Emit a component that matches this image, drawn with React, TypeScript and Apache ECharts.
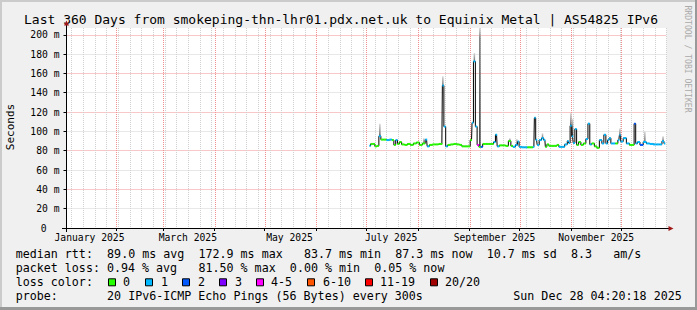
import React, { useEffect, useRef } from 'react';
import * as echarts from 'echarts';

// ---------- texts ----------
const TITLE = 'Last 360 Days from smokeping-thn-lhr01.pdx.net.uk to Equinix Metal | AS54825 IPv6';
const Y_TITLE = 'Seconds';
const WATERMARK = 'RRDTOOL / TOBI OETIKER';

// ---------- axes (days since 2025-01-01 00:00) ----------
const START_DAY = 1 + (4 + 20 / 60 + 18 / 3600) / 24; // Jan 2 04:20:18
const END_DAY = START_DAY + 360; // Dec 28 04:20:18
const Y_MAX = 207;

const monthStartDays = [31, 59, 90, 120, 151, 181, 212, 243, 273, 304, 334];
const monthLabelDays = [15, 74, 135, 196, 258, 319];
const monthLabels = ['January 2025', 'March 2025', 'May 2025', 'July 2025', 'September 2025', 'November 2025'];
const FIRST_SUNDAY = 4; // Jan 5 2025
const yMajorTicks = [0, 20, 40, 60, 80, 100, 120, 140, 160, 180, 200];

// ---------- data: median rtt (ms) ----------
const medianDays = [
  183.2, 184.1, 185.6, 186.8, 188.0, 189.2, 190.4, 192.2, 194.0, 195.8,
  197.0, 198.2, 199.2, 200.3, 201.5, 203.0, 204.8, 206.6, 208.4, 210.2,
  212.0, 213.8, 215.6, 217.2, 218.0, 219.8, 221.6, 223.4, 225.2, 226.4,
  227.0, 228.2, 229.2, 230.6, 232.4, 234.2, 236.0, 237.8, 239.0, 240.8,
  242.6, 244.2, 244.8, 245.9, 247.1, 248.0, 249.2, 250.2, 251.6, 253.4,
  255.2, 257.0, 257.9, 259.2, 260.0, 261.8, 263.6, 265.4, 267.2, 268.4,
  269.6, 271.4, 272.3, 273.2, 275.0, 276.8, 278.6, 280.4, 281.6, 282.2,
  283.2, 284.0, 285.6, 286.8, 288.2, 288.8, 290.0, 291.2, 293.0, 294.8,
  296.0, 297.2, 299.0, 301.2, 302.1, 302.9, 303.8, 304.8, 305.6, 306.8,
  307.7, 309.2, 310.4, 312.2, 313.4, 314.7, 315.6, 317.0, 318.8, 320.0,
  321.8, 323.0, 324.2, 325.4, 326.3, 327.2, 328.4, 329.6, 331.4, 332.6,
  333.2, 334.2, 336.2, 338.0, 339.8, 341.3, 342.2, 343.2, 344.3, 346.2,
  348.2, 350.0, 352.1, 354.2, 356.0, 357.8, 359.1, 360.2,
];
const medianRtt = [
  85, 87, 87, 84.5, 85, 95, 91.5, 91.5, 91, 91.5,
  91, 86, 91, 87, 89, 86.5, 86, 87, 86, 87.5,
  88.5, 86, 87.5, 91.5, 84.5, 86, 86.5, 86.5, 87, 87,
  147.5, 105, 84.5, 86, 86.5, 87, 86.5, 86, 84.5, 84.5,
  84.5, 91, 109, 172.4, 105, 86, 84, 84, 87, 87,
  87, 87, 89, 96.5, 84.5, 85.5, 85.5, 85, 90, 85,
  84, 86, 89.5, 84, 83.5, 83.5, 83.5, 83.5, 84, 114,
  91.3, 86, 91, 93, 91, 84, 86.5, 85, 85, 85,
  86, 84, 84, 86.5, 90, 88, 105.8, 94.8, 88, 102.4,
  86, 89, 86, 87.5, 92, 108, 86.5, 87.5, 84.5, 83,
  91, 87.5, 96.5, 87.5, 91, 93, 87.5, 87.5, 87.5, 91,
  96, 89.5, 93, 87.5, 86, 86, 108, 87.5, 89, 86,
  89, 87.5, 87, 86.5, 86.5, 86.5, 89.8, 87.5,
];
// index into lossColors
const lossIndex = [
  1, 0, 0, 0, 0, 1, 0, 0, 1, 1,
  0, 0, 1, 0, 0, 0, 0, 0, 0, 0,
  0, 0, 0, 1, 1, 0, 0, 0, 0, 0,
  1, 1, 1, 0, 0, 0, 0, 0, 0, 0,
  0, 0, 1, 1, 1, 4, 0, 2, 0, 0,
  0, 0, 1, 1, 1, 0, 0, 0, 0, 0,
  1, 1, 1, 1, 1, 1, 0, 0, 1, 1,
  1, 1, 1, 1, 1, 0, 0, 0, 0, 0,
  0, 1, 1, 1, 1, 1, 1, 1, 1, 1,
  0, 0, 0, 0, 1, 1, 1, 0, 0, 0,
  1, 1, 1, 1, 1, 1, 1, 1, 0, 1,
  1, 1, 1, 1, 0, 0, 2, 1, 1, 2,
  1, 1, 1, 1, 1, 1, 1, 1,
];

// ---------- data: smoke (ping spread) ----------
const smokeDays = [189.2, 215.6, 227.0, 245.9, 249.2, 267.2, 271.4, 286.8, 303.8, 304.8, 333.2, 348.2, 359.1];
const smokeLow = [95, 87.5, 147.5, 172.4, 84, 90, 86, 93, 105.8, 94.8, 96, 89, 89.8];
const smokeHigh = [108, 93, 157, 181, 207, 93, 92, 98, 119, 113, 103, 100, 95];

// ---------- legend ----------
const lossColors = ['#26ff00', '#00b8ff', '#0059ff', '#7e00ff', '#ff00ff', '#ff5500', '#ff0000', '#a10000'];
const lossLabels = ['0', '1', '2', '3', '4-5', '6-10', '11-19', '20/20'];
const legendLines = [
  'median rtt:  89.0 ms avg  172.9 ms max   83.7 ms min  87.3 ms now  10.7 ms sd  8.3   am/s',
  'packet loss: 0.94 % avg   81.50 % max  0.00 % min  0.05 % now',
  'loss color:',
  'probe:       20 IPv6-ICMP Echo Pings (56 Bytes) every 300s',
];
const timestampText = 'Sun Dec 28 04:20:18 2025';

// ---------- layout ----------
const W = 697;
const H = 310;
const GRID_LEFT = 66.5;
const GRID_TOP = 28;
const GRID_W = 600;
const GRID_H = 200;
const MONO = '"DejaVu Sans Mono", monospace';
const LEG_X0 = 15.7;
const LEG_CW = 7.03;
const LEG_FONT = `11.67px ${MONO}`;
const legendRowY = [254.3, 268.3, 282.3, 296];
const swatchX = [108.5, 145.5, 182.5, 219.5, 256.5, 307.5, 365.5, 430.5];
const swatchLabelX = [123, 161, 198, 235, 271, 323, 380, 445];

function tokens(line: string) {
  const out: { col: number; text: string }[] = [];
  const re = /\S+(?: \S+)*/g;
  let m: RegExpExecArray | null;
  while ((m = re.exec(line))) out.push({ col: m.index, text: m[0] });
  return out;
}

export default function App() {
  const ref = useRef<HTMLDivElement>(null);

  useEffect(() => {
    document.body.style.margin = '0';
    const chart = echarts.init(ref.current!, null, { renderer: 'svg', width: W, height: H });

    const weekDays: number[][] = [];
    for (let d = FIRST_SUNDAY; d < END_DAY; d += 7) if (d > START_DAY) weekDays.push([d, 0]);
    const monthDays = monthStartDays.map((d) => [d, 0]);

    const lossData = medianDays.map((d, i) => {
      const prev = i > 0 ? medianDays[i - 1] : d - 0.6;
      const next = i < medianDays.length - 1 ? medianDays[i + 1] : d + 0.6;
      return [d, medianRtt[i], lossIndex[i], (prev + d) / 2, (d + next) / 2];
    });
    const smokeData = smokeDays.map((d, i) => [d, smokeLow[i], smokeHigh[i]]);

    const gridLine = (color: string) => (params: any, api: any) => {
      const cs = params.coordSys;
      const x = Math.round(api.coord([api.value(0), 0])[0]) + 0.5;
      return {
        type: 'line',
        shape: { x1: x, y1: cs.y, x2: x, y2: cs.y + cs.height },
        style: { stroke: color, lineWidth: 1, lineDash: [1, 1] },
        silent: true,
      };
    };

    const elements: any[] = [];
    // 3D frame
    elements.push({ type: 'rect', shape: { x: 0, y: 0, width: W, height: 2 }, style: { fill: '#cbcbcb' }, silent: true });
    elements.push({ type: 'rect', shape: { x: 0, y: 0, width: 2, height: H }, style: { fill: '#cbcbcb' }, silent: true });
    elements.push({ type: 'rect', shape: { x: 0, y: H - 3, width: W, height: 3 }, style: { fill: '#999999' }, silent: true });
    elements.push({ type: 'rect', shape: { x: W - 2, y: 0, width: 2, height: H }, style: { fill: '#999999' }, silent: true });
    // title
    elements.push({
      type: 'text', x: 24, y: 19,
      style: { text: TITLE, font: `13px ${MONO}`, fill: '#000', align: 'left', verticalAlign: 'middle' },
    });
    // y title
    elements.push({
      type: 'text', x: 10, y: 127, rotation: Math.PI / 2,
      style: { text: Y_TITLE, font: `11px ${MONO}`, fill: '#000', align: 'center', verticalAlign: 'middle' },
    });
    // watermark
    elements.push({
      type: 'text', x: 687.5, y: 59, rotation: -Math.PI / 2,
      style: { text: WATERMARK, font: `8.1px ${MONO}`, fill: '#aaaaaa', align: 'center', verticalAlign: 'middle' },
    });
    // axis lines + arrows
    const axisY = GRID_TOP + GRID_H + 0.5;
    elements.push({ type: 'line', shape: { x1: 62, y1: axisY, x2: 669, y2: axisY }, style: { stroke: '#000', lineWidth: 1 }, z: 50 });
    elements.push({ type: 'line', shape: { x1: 66.5, y1: 232, x2: 66.5, y2: 24 }, style: { stroke: '#000', lineWidth: 1 }, z: 50 });
    elements.push({ type: 'polygon', shape: { points: [[64, 25.5], [69, 25.5], [66.5, 20.5]] }, style: { fill: '#a01818' }, z: 51 });
    elements.push({ type: 'polygon', shape: { points: [[668.5, 226], [668.5, 231], [673.5, 228.5]] }, style: { fill: '#a01818' }, z: 51 });
    // legend lines
    legendLines.forEach((line, r) => {
      tokens(line).forEach((t) => {
        elements.push({
          type: 'text', x: LEG_X0 + t.col * LEG_CW, y: legendRowY[r],
          style: { text: t.text, font: LEG_FONT, fill: '#000', align: 'left', verticalAlign: 'middle' },
        });
      });
    });
    elements.push({
      type: 'text', x: 513.3, y: legendRowY[3],
      style: { text: timestampText, font: LEG_FONT, fill: '#000', align: 'left', verticalAlign: 'middle' },
    });
    lossColors.forEach((c, i) => {
      elements.push({
        type: 'rect', shape: { x: swatchX[i], y: legendRowY[2] - 3.5, width: 7, height: 7 },
        style: { fill: c, stroke: '#000', lineWidth: 1 },
      });
      elements.push({
        type: 'text', x: swatchLabelX[i], y: legendRowY[2],
        style: { text: lossLabels[i], font: LEG_FONT, fill: '#000', align: 'left', verticalAlign: 'middle' },
      });
    });

    const option: any = {
      animation: false,
      backgroundColor: '#f0f0f0',
      textStyle: { fontFamily: MONO },
      grid: {
        left: GRID_LEFT, top: GRID_TOP, width: GRID_W, height: GRID_H,
        show: true, backgroundColor: '#ffffff', borderWidth: 0, containLabel: false, outerBoundsMode: 'none',
      },
      xAxis: {
        type: 'value', min: START_DAY, max: END_DAY,
        axisLine: { show: false },
        splitLine: { show: false },
        axisTick: { show: true, customValues: monthStartDays, length: 3, lineStyle: { color: '#000' } },
        axisLabel: {
          customValues: monthLabelDays,
          formatter: (v: number) => {
            const i = monthLabelDays.indexOf(v);
            return i >= 0 ? monthLabels[i] : '';
          },
          margin: 4, fontSize: 9.7, fontFamily: MONO, color: '#000',
          showMinLabel: true, showMaxLabel: true, hideOverlap: false,
        },
      },
      yAxis: {
        type: 'value', min: 0, max: Y_MAX, interval: 10,
        axisLine: { show: false },
        axisTick: { show: true, customValues: yMajorTicks, length: 3, lineStyle: { color: '#000' } },
        splitLine: { show: true, lineStyle: { color: ['#f09090', '#d0d0d0'], width: 1, type: [1, 1] } },
        axisLabel: {
          formatter: (v: number) => (v % 20 === 0 && v <= 200 ? (v === 0 ? '{z|0}' : `${v} m`) : ''),
          rich: { z: { fontSize: 9.7, fontFamily: MONO, color: '#000', padding: [0, 13, 0, 0] } },
          margin: 7, fontSize: 9.7, fontFamily: MONO, color: '#000',
          showMaxLabel: true, hideOverlap: false,
        },
      },
      series: [
        { type: 'custom', name: 'weekGrid', data: weekDays, renderItem: gridLine('#d0d0d0'), silent: true, clip: false, z: 1 },
        { type: 'custom', name: 'monthGrid', data: monthDays, renderItem: gridLine('#f09090'), silent: true, clip: false, z: 2 },
        {
          type: 'custom', name: 'smoke', data: smokeData, silent: true, z: 3,
          renderItem: (params: any, api: any) => {
            const top = api.coord([api.value(0), api.value(2)]);
            const bot = api.coord([api.value(0), api.value(1)]);
            const h = Math.max(1, bot[1] - top[1]);
            const f = Math.min(0.9, 10 / h);
            return {
              type: 'rect',
              shape: { x: top[0] - 0.75, y: top[1], width: 1.5, height: h },
              style: {
                fill: new echarts.graphic.LinearGradient(0, 0, 0, 1, [
                  { offset: 0, color: '#d8d8d8' },
                  { offset: f, color: '#777777' },
                  { offset: 1, color: '#333333' },
                ]),
              },
            };
          },
        },
        {
          type: 'line', name: 'median', data: medianDays.map((d, i) => [d, medianRtt[i]]),
          step: 'middle', showSymbol: false, symbol: 'none', silent: true, z: 4,
          lineStyle: { color: '#000', width: 1 },
        },
        {
          type: 'custom', name: 'loss', data: lossData, silent: true, z: 5,
          renderItem: (params: any, api: any) => {
            const y = api.coord([api.value(0), api.value(1)])[1];
            const xl = api.coord([api.value(3), 0])[0];
            const xr = api.coord([api.value(4), 0])[0];
            return {
              type: 'line',
              shape: { x1: xl, y1: y, x2: xr, y2: y },
              style: { stroke: lossColors[api.value(2)], lineWidth: 2 },
            };
          },
        },
      ],
      graphic: { elements },
    };

    chart.setOption(option);
    return () => chart.dispose();
  }, []);

  return <div ref={ref} style={{ width: W, height: H, position: 'absolute', left: 0, top: 0 }} />;
}
